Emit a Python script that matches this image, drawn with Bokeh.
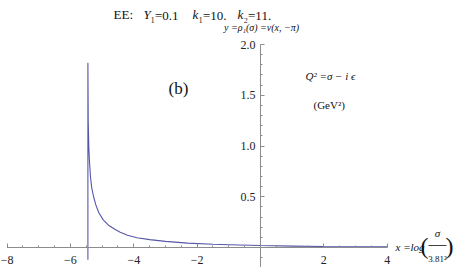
from bokeh.plotting import figure
from bokeh.models import LinearAxis, FixedTicker, CustomJSTickFormatter, Label, Range1d
from bokeh.embed import file_html
from bokeh.resources import INLINE

# ---- data ----
curve_x = [-8.0, -5.45, -5.45, -5.45, -5.44, -5.42, -5.40, -5.37, -5.33, -5.27, -5.20, -5.10,
           -4.96, -4.80, -4.60, -4.43, -4.20, -3.90, -3.50, -3.00, -2.30, -1.50, -1.00,
           0.0, 1.0, 2.0, 3.0, 4.0]
curve_y = [0.0, 0.0, -0.12, 1.82, 1.25, 0.98, 0.85, 0.70, 0.59, 0.50, 0.42, 0.34,
           0.27, 0.22, 0.18, 0.15, 0.12, 0.096, 0.078, 0.060, 0.043, 0.032, 0.027,
           0.019, 0.014, 0.010, 0.008, 0.006]

x_major = [-8, -6, -4, -2, 0, 2, 4]
x_minor = [v / 2 for v in range(-16, 9) if v % 4 != 0]
y_major = [0.0, 0.5, 1.0, 1.5, 2.0]
y_minor = [round(v / 10, 1) for v in range(-2, 20) if v % 5 != 0]

# reference pixel geometry -> data
PX_PER_X = 31.67
PX_PER_Y = 101.5
X0_PX = 260
Y0_PX = 247
W, H = 455, 267

def dx(px):
    return (px - X0_PX) / PX_PER_X

def dy(py):
    return (Y0_PX - py) / PX_PER_Y

p = figure(width=W, height=H, output_backend="svg", toolbar_location=None,
           x_axis_location=None, y_axis_location=None, min_border=0,
           x_range=Range1d(dx(0), dx(W)), y_range=Range1d(dy(H), dy(0)))
p.grid.visible = False
p.outline_line_color = None
p.background_fill_color = "white"

FONT = "Liberation Serif"
AX = "#8c8c8c"

xa = LinearAxis(fixed_location=0, bounds=(-8, 4))
xa.ticker = FixedTicker(ticks=x_major, minor_ticks=x_minor)
xa.formatter = CustomJSTickFormatter(code="""
    if (Math.abs(tick) < 1e-9) return '';
    return tick < 0 ? '\u2212' + (-tick) : '' + tick;""")
ya = LinearAxis(fixed_location=0, bounds=(-0.24, 2.0))
ya.ticker = FixedTicker(ticks=y_major, minor_ticks=y_minor)
ya.formatter = CustomJSTickFormatter(code="""
    if (Math.abs(tick) < 1e-9) return '';
    return tick.toFixed(1);""")
for a in (xa, ya):
    a.axis_line_color = AX
    a.major_tick_line_color = AX
    a.minor_tick_line_color = AX
    a.major_tick_in = 4
    a.major_tick_out = 0
    a.minor_tick_in = 2
    a.minor_tick_out = 0
    a.major_label_text_font = FONT
    a.major_label_text_font_size = "12px"
    a.major_label_text_color = "#222222"
xa.major_label_standoff = 8
ya.major_label_standoff = 5
p.add_layout(xa, "below")
p.add_layout(ya, "left")

p.line(curve_x, curve_y, line_color="#5656a8", line_width=1.1)

def lab(text, px, py, size, style="normal", align="left"):
    p.add_layout(Label(x=dx(px), y=dy(py), text=text, text_font=FONT,
                       text_font_size=size, text_font_style=style,
                       text_align=align, text_baseline="middle", text_color="#111111"))

# title pieces
lab("EE:", 113, 14, "13px")
lab("Y", 143, 14, "13px", "italic")
lab("\u2081=0.1", 150, 15, "13px")
lab("k", 192, 14, "13px", "italic")
lab("\u2081=10.", 198, 15, "13px")
lab("k", 237, 14, "13px", "italic")
lab("\u2082=11.", 243, 15, "13px")

# axis labels
lab("y =\u03c1\u2081(\u03c3) =v(x, \u2212\u03c0)", 261, 27, "10px", "italic", "center")
lab("(b)", 178, 88, "17px", "normal", "center")
lab("Q\u00b2 =\u03c3 \u2212 i \u03f5", 305, 75, "11px", "italic")
lab("(GeV\u00b2)", 313, 104, "11px")

lab("x =log", 395, 246, "11px", "italic")
lab("(", 420, 245, "24px")
lab("\u03c3", 437, 232, "11px", "italic", "center")
lab("3.81\u00b2", 437, 258, "9px", "normal", "center")
lab(")", 445, 245, "24px")
p.segment(x0=[dx(428)], y0=[dy(245)], x1=[dx(446)], y1=[dy(245)], line_color="#111111", line_width=0.8)

open("out.html", "w").write(file_html(p, INLINE))
